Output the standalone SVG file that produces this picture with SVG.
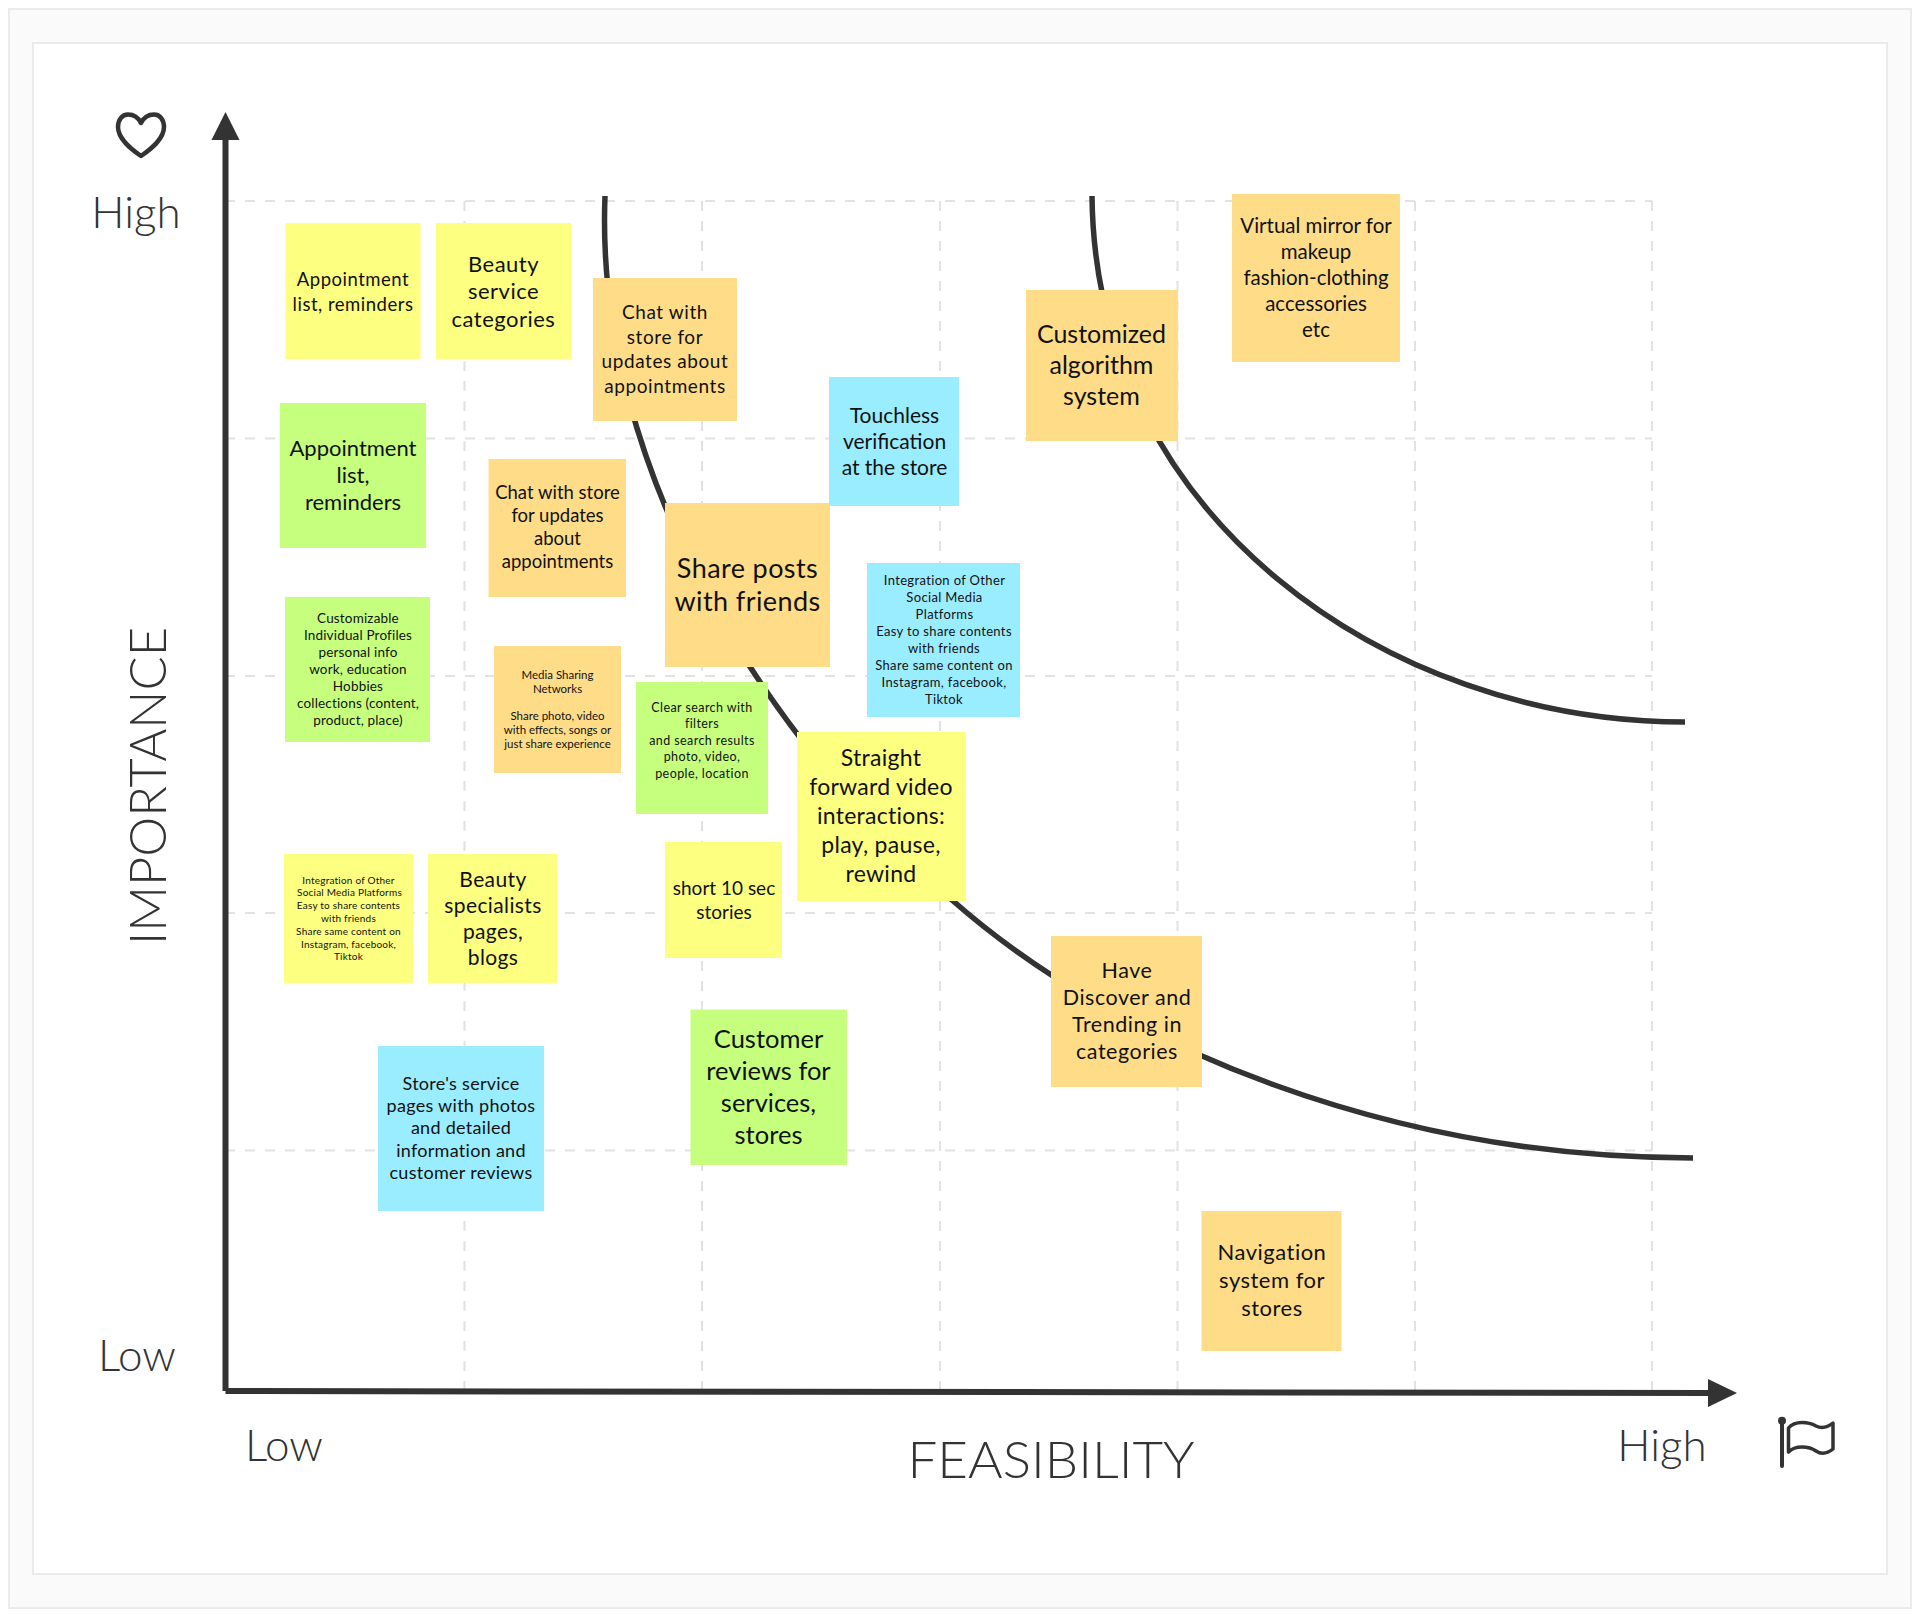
<svg xmlns="http://www.w3.org/2000/svg" width="1920" height="1618" viewBox="0 0 1920 1618">
<style>
.t{font-family:"Lato","Liberation Sans",sans-serif;text-anchor:middle;fill:#111}
.a{font-family:"Lato","Liberation Sans",sans-serif;font-weight:300;text-anchor:middle;fill:#333}
.y{fill:#fdff80}.g{fill:#c6ff7e}.o{fill:#ffdd88}.b{fill:#9aedff}
.grid line{stroke:#e2e2e2;stroke-width:2;stroke-dasharray:10 10}
.curve{fill:none;stroke:#333;stroke-width:5.5}
.axis{stroke:#333;stroke-width:6;fill:none}
.icon{fill:none;stroke:#333;stroke-width:4.5;stroke-linejoin:round;stroke-linecap:round}
</style>
<rect x="0" y="0" width="1920" height="1618" fill="#fff"/>
<rect x="9" y="9" width="1902" height="1599" fill="#fafafa" stroke="#ebebeb" stroke-width="2"/>
<rect x="33" y="43" width="1854" height="1531" fill="#fff" stroke="#ebebeb" stroke-width="2"/>
<g class="grid">
<line x1="225" y1="201" x2="1652" y2="201"/><line x1="225" y1="438.5" x2="1652" y2="438.5"/><line x1="225" y1="676" x2="1652" y2="676"/><line x1="225" y1="913" x2="1652" y2="913"/><line x1="225" y1="1150.5" x2="1652" y2="1150.5"/>
<line x1="464.5" y1="201" x2="464.5" y2="1391"/><line x1="702" y1="201" x2="702" y2="1391"/><line x1="940" y1="201" x2="940" y2="1391"/><line x1="1177.5" y1="201" x2="1177.5" y2="1391"/><line x1="1415" y1="201" x2="1415" y2="1391"/><line x1="1652" y1="201" x2="1652" y2="1391"/>
</g>
<g id="connectors">
<path class="curve" d="M605,196 C594,470 768,741 952,900 C1120,1048 1393,1158 1693,1158"/>
<path class="curve" d="M1092,196 C1095,515 1385,722 1685,722"/>
<path class="axis" d="M225.5,1391 V136"/><path d="M225.5,112 L239.5,140 H211.5 Z" fill="#333"/>
<path class="axis" d="M225.5,1391 L1712,1393"/><path d="M1737,1393 L1708,1379 V1407 Z" fill="#333"/>
</g>
<g id="heart"><path class="icon" d="M141,123 C138,117 133,114.5 128,114.5 C122,114.5 118,120 118,127 C118,139 131,149 141,156 C151,149 164,139 164,127 C164,120 160,114.5 154,114.5 C149,114.5 144,117 141,123 Z"/></g>
<g id="flag"><path class="icon" style="stroke-width:4" d="M1782,1422 V1466"/><circle cx="1782" cy="1420.7" r="4" fill="#333"/><path class="icon" style="stroke-width:3.5" d="M1788.5,1428 C1795,1420 1809,1422 1816,1426 C1822,1429 1828,1427 1833,1423 V1449 C1828,1453 1822,1455 1816,1451 C1809,1446 1795,1445 1788.5,1452 Z"/></g>
<text class="a" x="136" y="228" font-size="44">High</text>
<text class="a" x="137" y="1371" font-size="44">Low</text>
<text class="a" x="284" y="1461" font-size="44">Low</text>
<text class="a" x="1662" y="1461" font-size="44">High</text>
<text class="a" x="1051" y="1478" font-size="52" textLength="287" lengthAdjust="spacingAndGlyphs">FEASIBILITY</text>
<text class="a" transform="translate(166,786) rotate(-90)" font-size="52" textLength="318" lengthAdjust="spacingAndGlyphs">IMPORTANCE</text>
<g id="n1"><rect class="y" x="285.5" y="223" width="135" height="136"/><text class="t" font-size="18.5" letter-spacing=".027em" y="286"><tspan x="353">Appointment</tspan><tspan x="353" dy="24.5">list, reminders</tspan></text></g>
<g id="n2"><rect class="y" x="436" y="223" width="135" height="136"/><text class="t" font-size="22" letter-spacing=".022em" y="271.5"><tspan x="503.5">Beauty</tspan><tspan x="503.5" dy="27.5">service</tspan><tspan x="503.5" dy="27.5">categories</tspan></text></g>
<g id="n3"><rect class="o" x="593" y="278" width="144" height="143"/><text class="t" font-size="19" letter-spacing=".03em" y="319"><tspan x="665">Chat with</tspan><tspan x="665" dy="24.7">store for</tspan><tspan x="665" dy="24.7">updates about</tspan><tspan x="665" dy="24.7">appointments</tspan></text></g>
<g id="n4"><rect class="g" x="280" y="403" width="146" height="145"/><text class="t" font-size="22" y="456"><tspan x="353">Appointment</tspan><tspan x="353" dy="27">list,</tspan><tspan x="353" dy="27">reminders</tspan></text></g>
<g id="n5"><rect class="o" x="488.5" y="459" width="137.5" height="138"/><text class="t" font-size="18.5" y="499"><tspan x="557.5">Chat with store</tspan><tspan x="557.5" dy="23">for updates</tspan><tspan x="557.5" dy="23">about</tspan><tspan x="557.5" dy="23">appointments</tspan></text></g>
<g id="n6"><rect class="o" x="665" y="503" width="165" height="164"/><text class="t" font-size="27" letter-spacing=".015em" y="578"><tspan x="747.5">Share posts</tspan><tspan x="747.5" dy="33">with friends</tspan></text></g>
<g id="n7"><rect class="b" x="829" y="377" width="130" height="129"/><text class="t" font-size="21" y="422.7"><tspan x="894.5">Touchless</tspan><tspan x="894.5" dy="26">verification</tspan><tspan x="894.5" dy="26">at the store</tspan></text></g>
<g id="n8" transform="translate(-1,0)"><rect class="o" x="1027" y="290" width="152" height="151"/><text class="t" font-size="25" y="343"><tspan x="1102.5">Customized</tspan><tspan x="1102.5" dy="31">algorithm</tspan><tspan x="1102.5" dy="31">system</tspan></text></g>
<g id="n9" transform="translate(-1,0)"><rect class="o" x="1233" y="194" width="168" height="168"/><text class="t" font-size="20.5" y="232.5"><tspan x="1317">Virtual mirror for</tspan><tspan x="1317" dy="26">makeup</tspan><tspan x="1317" dy="26">fashion-clothing</tspan><tspan x="1317" dy="26">accessories</tspan><tspan x="1317" dy="26">etc</tspan></text></g>
<g id="n10" transform="translate(-1,-1)"><rect class="b" x="868" y="564" width="153" height="154"/><text class="t" font-size="13" letter-spacing=".027em" y="585.5"><tspan x="945.5">Integration of Other</tspan><tspan x="945.5" dy="17">Social Media</tspan><tspan x="945.5" dy="17">Platforms</tspan><tspan x="945" dy="17">Easy to share contents</tspan><tspan x="945" dy="17">with friends</tspan><tspan x="945" dy="17">Share same content on</tspan><tspan x="945" dy="17">Instagram, facebook,</tspan><tspan x="945" dy="17">Tiktok</tspan></text></g>
<g id="n11"><rect class="g" x="285" y="597" width="145" height="145"/><text class="t" font-size="13.5" letter-spacing=".013em" y="623"><tspan x="358">Customizable</tspan><tspan x="358" dy="17">Individual Profiles</tspan><tspan x="358" dy="17">personal info</tspan><tspan x="358" dy="17">work, education</tspan><tspan x="358" dy="17">Hobbies</tspan><tspan x="358" dy="17">collections (content,</tspan><tspan x="358" dy="17">product, place)</tspan></text></g>
<g id="n12"><rect class="o" x="494" y="646" width="127" height="127"/><text class="t" font-size="11.5" y="678.7"><tspan x="557.5">Media Sharing</tspan><tspan x="557.5" dy="13.9">Networks</tspan><tspan x="557.5" dy="27.8">Share photo, video</tspan><tspan x="557.5" dy="13.9">with effects, songs or</tspan><tspan x="557.5" dy="13.9">just share experience</tspan></text></g>
<g id="n13"><rect class="g" x="636" y="682" width="132" height="132"/><text class="t" font-size="12.5" letter-spacing=".033em" y="712"><tspan x="702">Clear search with</tspan><tspan x="702" dy="16.4">filters</tspan><tspan x="702" dy="16.4">and search results</tspan><tspan x="702" dy="16.4">photo, video,</tspan><tspan x="702" dy="16.4">people, location</tspan></text></g>
<g id="n14"><rect class="y" x="284" y="854" width="129" height="129"/><text class="t" font-size="10" letter-spacing=".022em" y="883.5"><tspan x="348.5">Integration of Other</tspan><tspan x="349.5" dy="12.8">Social Media Platforms</tspan><tspan x="348.5" dy="12.8">Easy to share contents</tspan><tspan x="348.5" dy="12.8">with friends</tspan><tspan x="348.5" dy="12.8">Share same content on</tspan><tspan x="348.5" dy="12.8">Instagram, facebook,</tspan><tspan x="348.5" dy="12.8">Tiktok</tspan></text></g>
<g id="n15"><rect class="y" x="428" y="854" width="129" height="129"/><text class="t" font-size="21" letter-spacing=".018em" y="886.5"><tspan x="493">Beauty</tspan><tspan x="493" dy="26.2">specialists</tspan><tspan x="493" dy="26.2">pages,</tspan><tspan x="493" dy="26.2">blogs</tspan></text></g>
<g id="n16"><rect class="y" x="665" y="842" width="117" height="116"/><text class="t" font-size="19" y="895"><tspan x="724">short 10 sec</tspan><tspan x="724" dy="23.6">stories</tspan></text></g>
<g id="n17" transform="translate(-1,-1)"><rect class="y" x="798" y="733" width="169" height="169"/><text class="t" font-size="23" letter-spacing=".012em" y="766.5"><tspan x="882">Straight</tspan><tspan x="882" dy="29">forward video</tspan><tspan x="882" dy="29">interactions:</tspan><tspan x="882" dy="29">play, pause,</tspan><tspan x="882" dy="29">rewind</tspan></text></g>
<g id="n18"><rect class="o" x="1051" y="936" width="151" height="151"/><text class="t" font-size="21.5" letter-spacing=".024em" y="978"><tspan x="1127">Have</tspan><tspan x="1127" dy="27">Discover and</tspan><tspan x="1127" dy="27">Trending in</tspan><tspan x="1127" dy="27">categories</tspan></text></g>
<g id="n19"><rect class="b" x="378" y="1046" width="166" height="165"/><text class="t" font-size="18" letter-spacing=".016em" y="1089.5"><tspan x="461">Store's service</tspan><tspan x="461" dy="22.4">pages with photos</tspan><tspan x="461" dy="22.4">and detailed</tspan><tspan x="461" dy="22.4">information and</tspan><tspan x="461" dy="22.4">customer reviews</tspan></text></g>
<g id="n20"><rect class="g" x="690.5" y="1009.5" width="156.5" height="155.5"/><text class="t" font-size="25.5" y="1048"><tspan x="768.5">Customer</tspan><tspan x="768.5" dy="31.9">reviews for</tspan><tspan x="768.5" dy="31.9">services,</tspan><tspan x="768.5" dy="31.9">stores</tspan></text></g>
<g id="n21"><rect class="o" x="1201.5" y="1211" width="140" height="140"/><text class="t" font-size="22" letter-spacing=".022em" y="1260"><tspan x="1272">Navigation</tspan><tspan x="1272" dy="28">system for</tspan><tspan x="1272" dy="28">stores</tspan></text></g>
</svg>
